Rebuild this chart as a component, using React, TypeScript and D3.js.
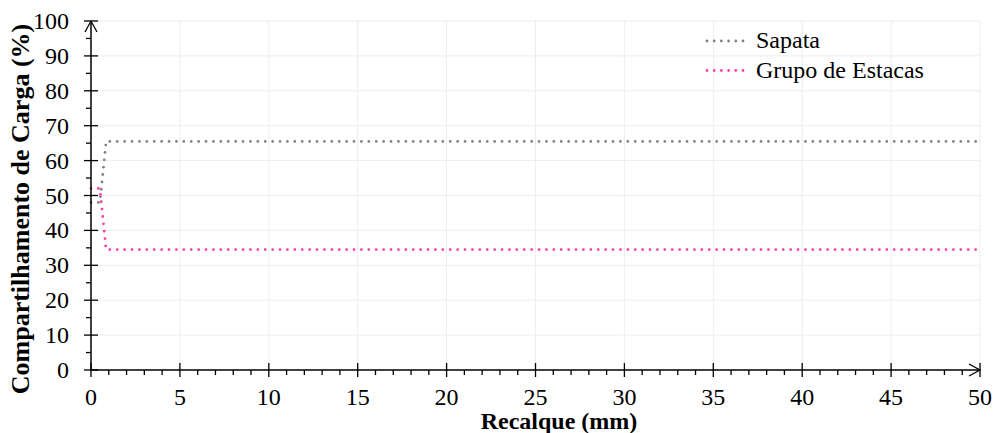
import React from "react";
import * as d3 from "d3";

const sapataX = [0, 0.5, 0.85, 50];
const sapataY = [48, 48, 65.5, 65.5];
const estacasX = [0, 0.5, 0.85, 50];
const estacasY = [52, 52, 34.5, 34.5];
const xTicks = [0, 5, 10, 15, 20, 25, 30, 35, 40, 45, 50];
const yTicks = [0, 10, 20, 30, 40, 50, 60, 70, 80, 90, 100];
const seriesNames = ["Sapata", "Grupo de Estacas"];
const seriesColors = ["#808080", "#ff3ea0"];

export default function App() {
  const W = 994, H = 433;
  const left = 91, right = 980, top = 21, bottom = 370;
  const x = d3.scaleLinear().domain([0, 50]).range([left, right]);
  const y = d3.scaleLinear().domain([0, 100]).range([bottom, top]);
  const line = d3.line<[number, number]>().x(d => x(d[0])).y(d => y(d[1]));
  const s1 = sapataX.map((v, i) => [v, sapataY[i]] as [number, number]);
  const s2 = estacasX.map((v, i) => [v, estacasY[i]] as [number, number]);
  const xMinor = d3.range(0, 51, 1).filter(v => v % 5 !== 0);
  const yMinor = d3.range(5, 100, 10);
  const font = "Liberation Serif";
  const dash = { strokeWidth: 2.8, strokeLinecap: "round" as const, strokeDasharray: "0 7.4", fill: "none" };
  return (
    <svg width={W} height={H} style={{ position: "absolute", left: 0, top: 0 }} fontFamily={font}>
      <rect width={W} height={H} fill="#fff" />
      {xTicks.filter(v => v > 0).map(v => (
        <line key={"gx" + v} x1={x(v)} x2={x(v)} y1={top} y2={bottom} stroke="#ededed" strokeWidth={1} />
      ))}
      {yTicks.filter(v => v > 0).map(v => (
        <line key={"gy" + v} x1={left} x2={right} y1={y(v)} y2={y(v)} stroke="#ededed" strokeWidth={1} />
      ))}
      <path d={line(s1) || ""} stroke={seriesColors[0]} {...dash} />
      <path d={line(s2) || ""} stroke={seriesColors[1]} {...dash} />
      <line x1={left} x2={left} y1={bottom} y2={top} stroke="#000" strokeWidth={1.5} />
      <line x1={left} x2={right} y1={bottom} y2={bottom} stroke="#000" strokeWidth={1.5} />
      <path d={`M${left - 6},${top + 11} L${left},${top} L${left + 6},${top + 11}`} fill="none" stroke="#000" strokeWidth={1.3} />
      <path d={`M${right - 11},${bottom - 6} L${right},${bottom} L${right - 11},${bottom + 6}`} fill="none" stroke="#000" strokeWidth={1.3} />
      {yTicks.map(v => (
        <line key={"ty" + v} x1={left - 7} x2={left + 7} y1={y(v)} y2={y(v)} stroke="#000" strokeWidth={1.3} />
      ))}
      {yMinor.map(v => (
        <line key={"my" + v} x1={left - 5} x2={left} y1={y(v)} y2={y(v)} stroke="#000" strokeWidth={1.3} />
      ))}
      {xTicks.map(v => (
        <line key={"tx" + v} x1={x(v)} x2={x(v)} y1={bottom - 7} y2={bottom + 7} stroke="#000" strokeWidth={1.3} />
      ))}
      {xMinor.map(v => (
        <line key={"mx" + v} x1={x(v)} x2={x(v)} y1={bottom} y2={bottom + 5} stroke="#000" strokeWidth={1.3} />
      ))}
      {yTicks.map(v => (
        <text key={"ly" + v} x={left - 22} y={y(v) + 8} textAnchor="end" fontSize={24} fontFamily={font}>{v}</text>
      ))}
      {xTicks.map(v => (
        <text key={"lx" + v} x={x(v)} y={bottom + 35} textAnchor="middle" fontSize={24} fontFamily={font}>{v}</text>
      ))}
      <text x={559} y={429} textAnchor="middle" fontSize={24} fontWeight="bold" fontFamily={font}>Recalque (mm)</text>
      <text transform={`translate(29,209) rotate(-90)`} textAnchor="middle" fontSize={26} fontWeight="bold" fontFamily={font}>Compartilhamento de Carga (%)</text>
      {seriesNames.map((n, i) => (
        <g key={n}>
          <line x1={707} x2={750} y1={41 + i * 29.5} y2={41 + i * 29.5} stroke={seriesColors[i]} {...dash} strokeDasharray="0 7.2" />
          <text x={756} y={48 + i * 29.5} fontSize={24} fontFamily={font}>{n}</text>
        </g>
      ))}
    </svg>
  );
}
